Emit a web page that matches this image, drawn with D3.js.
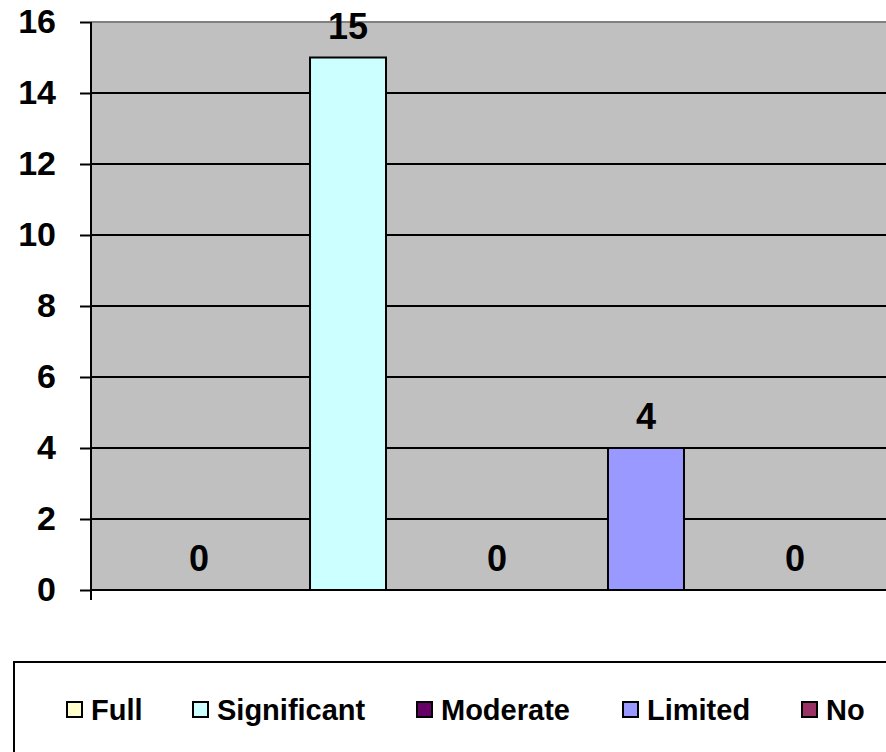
<!DOCTYPE html>
<html>
<head>
<meta charset="utf-8">
<script src="https://cdn.jsdelivr.net/npm/d3@7"></script>
<style>
  html, body { margin: 0; padding: 0; background: #fff; }
  svg { display: block; }
  text { font-family: "Liberation Sans", Arial, sans-serif; font-weight: bold; }
</style>
</head>
<body>
<svg id="chart" width="886" height="752"></svg>
<script>
// Series shown side by side in a single cluster
const seriesNames = ["Full", "Significant", "Moderate", "Limited", "No"];
const seriesValues = [0, 15, 0, 4, 0];
const seriesColors = ["#FFFFCC", "#CCFFFF", "#660066", "#9999FF", "#993366"];
const yTicks = [0, 2, 4, 6, 8, 10, 12, 14, 16];

const svg = d3.select("#chart");

const plot = { left: 91, top: 22, right: 903, bottom: 590 };

const y = d3.scaleLinear().domain([0, 16]).range([plot.bottom, plot.top]);
const x = d3.scaleBand()
  .domain(seriesNames)
  .range([plot.left, plot.right])
  .paddingInner(0.49)
  .paddingOuter(0.47);

// Plot background
svg.append("rect")
  .attr("x", plot.left).attr("y", plot.top)
  .attr("width", plot.right - plot.left).attr("height", plot.bottom - plot.top)
  .attr("fill", "#C0C0C0");

// Top border of the plot area
svg.append("line")
  .attr("x1", plot.left).attr("x2", plot.right)
  .attr("y1", plot.top).attr("y2", plot.top)
  .attr("stroke", "#808080").attr("stroke-width", 2);

// Gridlines
svg.append("g")
  .selectAll("line")
  .data(yTicks.filter(d => d > 0 && d < 16))
  .join("line")
  .attr("x1", plot.left).attr("x2", plot.right)
  .attr("y1", d => y(d)).attr("y2", d => y(d))
  .attr("stroke", "#000").attr("stroke-width", 2);

// Bars
svg.append("g")
  .selectAll("rect")
  .data(seriesNames)
  .join("rect")
  .attr("x", d => x(d))
  .attr("y", (d, i) => y(seriesValues[i]))
  .attr("width", x.bandwidth())
  .attr("height", (d, i) => plot.bottom - y(seriesValues[i]))
  .attr("fill", (d, i) => seriesColors[i])
  .attr("stroke", "#000").attr("stroke-width", 2);

// Y axis
const yAxis = d3.axisLeft(y)
  .tickValues(yTicks)
  .tickSize(11)
  .tickPadding(24)
  .tickFormat(d3.format("d"));

const gy = svg.append("g")
  .attr("transform", `translate(${plot.left},0)`)
  .call(yAxis);
gy.select(".domain").attr("stroke", "#000").attr("stroke-width", 2)
  .attr("d", `M0,${plot.top}V${plot.bottom + 10}`);
gy.selectAll(".tick line").attr("stroke", "#000").attr("stroke-width", 2);
gy.selectAll(".tick text")
  .attr("fill", "#000")
  .style("font-size", "34px")
  .style("font-family", "'Liberation Sans', Arial, sans-serif")
  .style("font-weight", "bold");

// X axis baseline
svg.append("line")
  .attr("x1", plot.left).attr("x2", plot.right)
  .attr("y1", plot.bottom).attr("y2", plot.bottom)
  .attr("stroke", "#000").attr("stroke-width", 2);

// Value labels
svg.append("g")
  .selectAll("text")
  .data(seriesNames)
  .join("text")
  .attr("x", d => x(d) + x.bandwidth() / 2)
  .attr("y", (d, i) => y(seriesValues[i]) - 19)
  .attr("text-anchor", "middle")
  .style("font-size", "36px")
  .attr("fill", "#000")
  .text((d, i) => seriesValues[i]);

// Legend box
svg.append("rect")
  .attr("x", 14).attr("y", 662)
  .attr("width", 900).attr("height", 120)
  .attr("fill", "#fff")
  .attr("stroke", "#000").attr("stroke-width", 2);

const legendX = [67, 193, 417, 623, 802];
const legend = svg.append("g")
  .selectAll("g")
  .data(seriesNames)
  .join("g")
  .attr("transform", (d, i) => `translate(${legendX[i]},702)`);
legend.append("rect")
  .attr("width", 15).attr("height", 15)
  .attr("fill", (d, i) => seriesColors[i])
  .attr("stroke", "#000").attr("stroke-width", 2);
legend.append("text")
  .attr("x", 24).attr("y", 18)
  .style("font-size", "29px")
  .attr("fill", "#000")
  .text(d => d);
</script>
</body>
</html>
